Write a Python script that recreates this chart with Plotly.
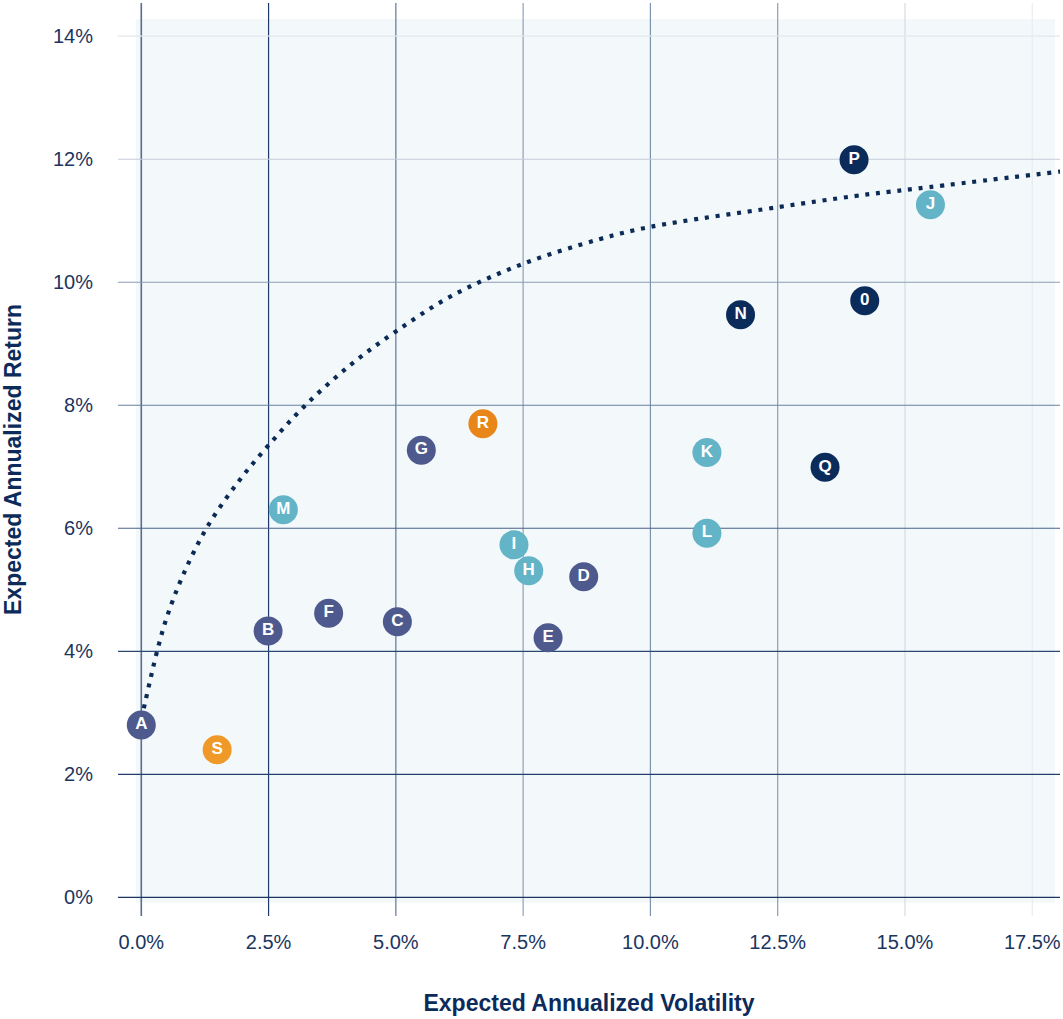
import plotly.graph_objects as go

# ---------------- data ----------------
labels = ["A", "B", "C", "D", "E", "F", "G",
          "H", "I", "J", "K", "L", "M",
          "N", "0", "P", "Q",
          "R", "S"]
volatility = [0.0, 2.49, 5.03, 8.69, 7.99, 3.68, 5.50,
              7.61, 7.32, 15.50, 11.11, 11.11, 2.79,
              11.77, 14.21, 14.00, 13.43,
              6.71, 1.49]
returns = [2.80, 4.33, 4.48, 5.21, 4.22, 4.62, 7.27,
           5.31, 5.73, 11.26, 7.23, 5.92, 6.30,
           9.47, 9.70, 11.99, 6.99,
           7.70, 2.40]
groups = ["g1"] * 7 + ["g2"] * 6 + ["g3"] * 4 + ["g4", "g5"]

frontier_vol = [0.0, 0.07, 0.18, 0.31, 0.5, 0.8, 1.28, 1.9, 2.5, 3.2, 4.1,
                5.0, 6.1, 7.5, 9.0, 10.0, 12.5, 14.0, 15.0, 18.05]
frontier_ret = [2.9, 3.15, 3.55, 4.0, 4.55, 5.2, 6.0, 6.75, 7.35, 7.98, 8.65,
                9.2, 9.78, 10.3, 10.7, 10.9, 11.22, 11.40, 11.50, 11.80]

x_ticks = [0, 2.5, 5, 7.5, 10, 12.5, 15, 17.5]
y_ticks = [0, 2, 4, 6, 8, 10, 12, 14]

# ---------------- styles ----------------
group_colors = {"g1": "#4e5a8d", "g2": "#63b4c7", "g3": "#0b2b5a",
                "g4": "#e8861a", "g5": "#ef9a28"}
x_grid_colors = ["#566d8f", "#1e3a68", "#60779a", "#8fa2bb",
                 "#7e91ad", "#8e9cb3", "#d5dce5", "#e8edf2"]
y_grid_colors = ["#1b355f", "#22406b", "#2b4873", "#4a6287",
                 "#6a7fa0", "#8c9cb5", "#c4ccd8", "#e3e8ee"]
navy = "#0d2b5a"
tick_color = "#1b3560"
font_family = "Liberation Sans, Arial, sans-serif"

fig = go.Figure()

# frontier curve
fig.add_trace(go.Scatter(
    x=frontier_vol, y=frontier_ret, mode="lines",
    line=dict(color="#0b2a55", width=4.2, dash="4px,6.8px", shape="spline", smoothing=1.0),
    hoverinfo="skip", showlegend=False,
))

# points
fig.add_trace(go.Scatter(
    x=volatility, y=returns, mode="markers+text",
    text=labels, textposition="middle center",
    textfont=dict(color="white", size=17, family=font_family, weight="bold"),
    marker=dict(size=29, color=[group_colors[g] for g in groups], line=dict(width=0)),
    showlegend=False,
))

shapes = []
# panel background (paper coords so it sits under the grid lines)
shapes.append(dict(type="rect", xref="paper", yref="paper", x0=0.0191, x1=0.9947,
                   y0=0.0146, y1=0.9825,
                   fillcolor="#f3f8fb", line=dict(width=0), layer="below"))
for xv, c in zip(x_ticks, x_grid_colors):
    shapes.append(dict(type="line", xref="x", yref="paper", x0=xv, x1=xv, y0=0, y1=1,
                       line=dict(color=c, width=1.6 if xv == 0 else 1.2), layer="below"))
for yv, c in zip(y_ticks, y_grid_colors):
    shapes.append(dict(type="line", xref="paper", yref="y", x0=0, x1=1, y0=yv, y1=yv,
                       line=dict(color=c, width=1.2), layer="below"))

fig.update_layout(
    width=1063, height=1019,
    margin=dict(l=118, r=3, t=3, b=103),
    paper_bgcolor="white", plot_bgcolor="rgba(0,0,0,0)",
    shapes=shapes,
    font=dict(family=font_family, color=tick_color),
    xaxis=dict(
        range=[-0.4575, 18.045], tickvals=x_ticks,
        ticktext=[f"{v:.1f}%" for v in x_ticks],
        showgrid=False, zeroline=False, showline=False,
        ticks="outside", ticklen=8, tickcolor="rgba(0,0,0,0)",
        tickfont=dict(size=20, color=tick_color),
        title=dict(text="Expected Annualized Volatility", standoff=42,
                   font=dict(size=23, color=navy, family=font_family, weight="bold")),
    ),
    yaxis=dict(
        range=[-0.304, 14.54], tickvals=y_ticks,
        ticktext=[f"{v}%" for v in y_ticks],
        showgrid=False, zeroline=False, showline=False,
        ticks="outside", ticklen=20, tickcolor="rgba(0,0,0,0)",
        tickfont=dict(size=20, color=tick_color),
        title=dict(text="Expected Annualized Return", standoff=24,
                   font=dict(size=23, color=navy, family=font_family, weight="bold")),
    ),
)

fig.write_html("out.html")
